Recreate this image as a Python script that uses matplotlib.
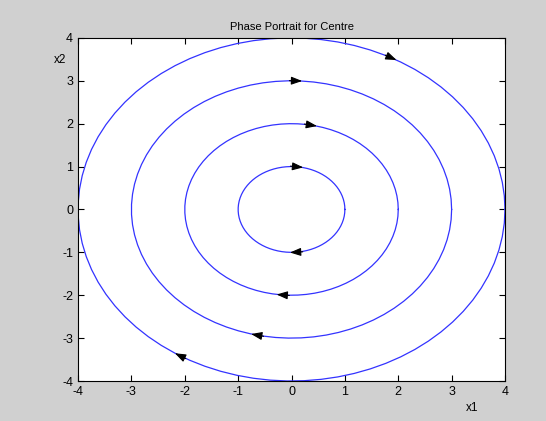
import numpy as np
import matplotlib
matplotlib.use('Agg')
import matplotlib.pyplot as plt

plt.rcParams['font.family'] = ['Liberation Sans', 'DejaVu Sans']
plt.rcParams['axes.unicode_minus'] = False

# trajectories of x1' = x2, x2' = -x1 (centre), one per radius
radii = [1, 2, 3, 4]
# arrow heads: x position on each orbit, top (+1) or bottom (-1) half
arrow_x = [0.12, 0.07, 0.38, -0.18, 0.10, -0.66, 1.88, -2.10]
arrow_r = [1, 1, 2, 2, 3, 3, 4, 4]
arrow_side = [1, -1, 1, -1, 1, -1, 1, -1]
ticks = [-4, -3, -2, -1, 0, 1, 2, 3, 4]

fig = plt.figure(figsize=(5.46, 4.21), dpi=100, facecolor='#d0d0d0')
ax = fig.add_axes([0.1429, 0.095, 0.782, 0.815])

theta = np.linspace(0, 2 * np.pi, 80)
for r in radii:
    ax.plot(r * np.cos(theta), r * np.sin(theta), color='#3333ff', lw=0.9)

for xa, r, s in zip(arrow_x, arrow_r, arrow_side):
    ya = s * np.sqrt(r ** 2 - xa ** 2)
    # clockwise flow direction
    vx, vy = ya, -xa
    n = np.hypot(vx, vy)
    vx, vy = vx / n, vy / n
    ax.annotate('', xy=(xa + 0.1 * vx, ya + 0.1 * vy),
                xytext=(xa - 0.14 * vx, ya - 0.14 * vy),
                arrowprops=dict(arrowstyle='-|>,head_length=0.6,head_width=0.22',
                                color='black', lw=0.8, shrinkA=0, shrinkB=0,
                                mutation_scale=11))

ax.set_xlim(-4, 4)
ax.set_ylim(-4, 4)
ax.set_xticks(ticks)
ax.set_yticks(ticks)
ax.tick_params(direction='in', top=True, right=True, labelsize=9, length=4, width=0.8)
for sp in ax.spines.values():
    sp.set_linewidth(0.8)
ax.set_title('Phase Portrait for Centre', fontsize=8, pad=6)
fig.text(60 / 546, 1 - 60 / 421, 'x2', fontsize=8.5, ha='center', va='center')
fig.text(472 / 546, 1 - 408 / 421, 'x1', fontsize=8.5, ha='center', va='center')

fig.savefig('out.png', dpi=100, facecolor=fig.get_facecolor())
